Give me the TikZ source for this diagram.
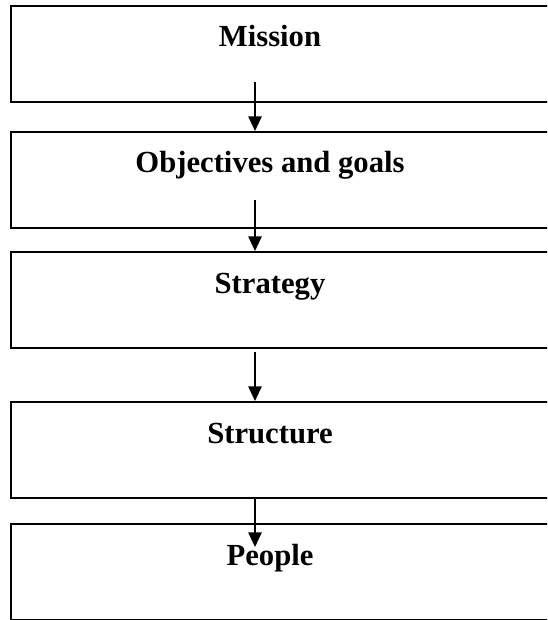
\documentclass[tikz,border=0pt]{standalone}
\usepackage{fontspec}
\setmainfont{Liberation Serif}
\usetikzlibrary{calc,arrows.meta}
\tikzset{
	% ---- default
	every node/.style={font=\fontsize{23}{27}\selectfont\bfseries},
	% ---- custom
	stage/.style={draw, rectangle, inner sep=0pt, anchor=north west,
		minimum width=412pt, minimum height=72pt},
	stage label/.style={anchor=base, inner sep=0pt},
	flow/.style={-{Triangle[length=11pt,width=10pt]}},
}

\begin{document}
\begin{tikzpicture}[x=0.75pt, y=-0.75pt, line width=1.4pt]

% frame %{{{2

	\useasboundingbox (0,0) rectangle (547,620);
	\clip (0,0) rectangle (547,620);

% boxes %{{{2

	\node[stage] (mission)    at (10,5)   {};
	\node[stage] (objectives) at (10,131) {};
	\node[stage] (strategy)   at (10,251) {};
	\node[stage] (structure)  at (10,401) {};
	\node[stage] (people)     at (10,523) {};

% box labels %{{{2

	\node[stage label] (missiontext)    at ($(mission.north west)+(260,42)$)    {Mission};
	\node[stage label] (objectivestext) at ($(objectives.north west)+(260,42)$) {Objectives and goals};
	\node[stage label] (strategytext)   at ($(strategy.north west)+(260,42)$)   {Strategy};
	\node[stage label] (structuretext)  at ($(structure.north west)+(260,42)$)  {Structure};
	\node[stage label] (peopletext)     at ($(people.north west)+(260,42)$)     {People};

% coordinates %{{{2

	\coordinate (m1) at (255,82);
	\coordinate (o1) at (255,200);
	\coordinate (s1) at (255,352);
	\coordinate (t1) at (255,498);
	\coordinate (p1) at (255,547);

% arrows %{{{2

	\draw[flow] (m1) -- (m1 |- objectives.north);
	\draw[flow] (o1) -- (o1 |- strategy.north);
	\draw[flow] (s1) -- (s1 |- structure.north);
	\draw[flow] (t1) -- (p1);

% closing %{{{2

\end{tikzpicture}
\end{document}
